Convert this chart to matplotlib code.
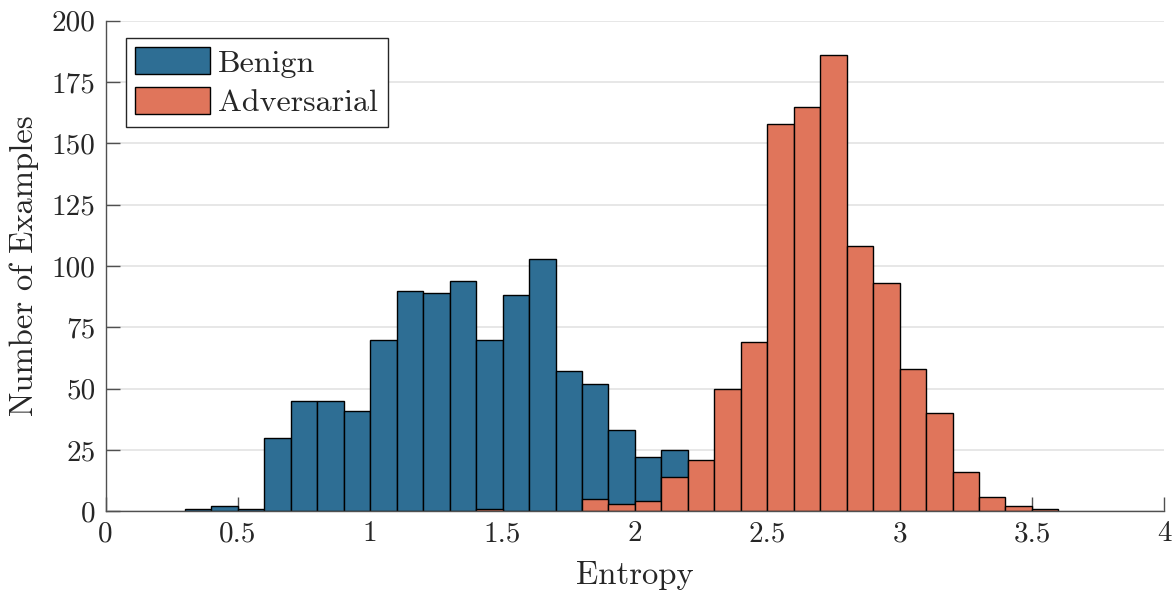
import numpy as np
import matplotlib
matplotlib.use("Agg")
import matplotlib.pyplot as plt

# Histogram bins: left edges, width 0.1
bin_left = np.round(np.arange(0.3, 3.6, 0.1), 2)
bin_width = 0.1

benign_counts = [1, 2, 1, 30, 45, 45, 41, 70, 90, 89, 94, 70, 88, 103, 57, 52, 33, 22, 25,
                 0, 0, 0, 0, 0, 0, 0, 0, 0, 0, 0, 0, 0, 0]
adversarial_counts = [0, 0, 0, 0, 0, 0, 0, 0, 0, 0, 0, 1, 0, 0, 0, 5, 3, 4, 14,
                      21, 50, 69, 158, 165, 186, 108, 93, 58, 40, 16, 6, 2, 1]

x_ticks = [0, 0.5, 1, 1.5, 2, 2.5, 3, 3.5, 4]
x_tick_labels = ["0", "0.5", "1", "1.5", "2", "2.5", "3", "3.5", "4"]
y_ticks = [0, 25, 50, 75, 100, 125, 150, 175, 200]

plt.rcParams["font.family"] = ["cmr10", "DejaVu Serif"]
plt.rcParams["axes.formatter.use_mathtext"] = True
plt.rcParams["mathtext.fontset"] = "cm"

fig = plt.figure(figsize=(11.75, 5.93), dpi=100)
ax = fig.add_axes([0.0898, 0.1378, 0.9011, 0.8273])

blue = "#2E6E94"
orange = "#E0755B"


def draw(counts, color, label):
    counts = np.asarray(counts)
    mask = counts > 0
    ax.bar(bin_left[mask], counts[mask], width=bin_width, align="edge",
           color=color, edgecolor="black", linewidth=1.0, label=label, zorder=2)


draw(benign_counts, blue, "Benign")
draw(adversarial_counts, orange, "Adversarial")

ax.set_xlim(0, 4)
ax.set_ylim(0, 200)
ax.set_xticks(x_ticks)
ax.set_xticklabels(x_tick_labels)
ax.set_yticks(y_ticks)
ax.set_yticklabels([str(v) for v in y_ticks])

ax.yaxis.grid(True, color="#e3e3e3", linewidth=1.2, zorder=0)
ax.set_axisbelow(True)

for s in ["top", "right"]:
    ax.spines[s].set_visible(False)
for s in ["left", "bottom"]:
    ax.spines[s].set_color("#505050")
    ax.spines[s].set_linewidth(1.0)

ax.tick_params(direction="in", length=10, width=1.0, color="#505050",
               labelsize=21, pad=7, labelcolor="#262626")

ax.set_xlabel("Entropy", fontsize=23.5, color="#262626", labelpad=10)
ax.set_ylabel("Number of Examples", fontsize=23.5, color="#262626", labelpad=9)

leg = ax.legend(loc="upper left", bbox_to_anchor=(0.0189, 0.9653), fontsize=23,
                fancybox=False, framealpha=1, edgecolor="#262626",
                handlelength=2.35, handleheight=0.9, handletextpad=0.25,
                borderpad=0.3, labelspacing=0.3, borderaxespad=0.0)
leg.get_frame().set_linewidth(1.0)
for t in leg.get_texts():
    t.set_color("#262626")

fig.savefig("out.png", dpi=100)
